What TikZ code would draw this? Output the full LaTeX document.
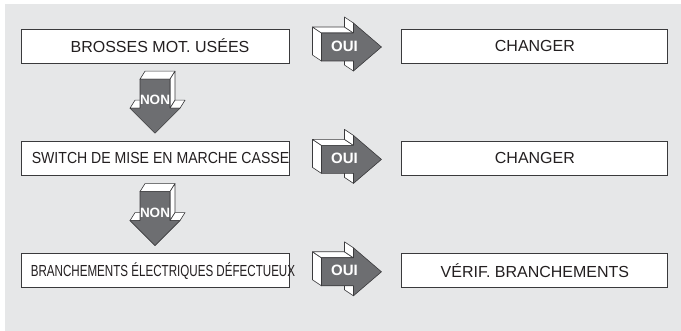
\documentclass[tikz,border=0pt]{standalone}
\usepackage{fontspec}
\setmainfont{Liberation Sans}
\usetikzlibrary{positioning,calc}
\definecolor{panel}{HTML}{E6E7E8}
\definecolor{arrowgray}{HTML}{6D6E71}
\definecolor{edge}{HTML}{3A3A3C}
\definecolor{ink}{HTML}{231F20}
\tikzset{
	qbox/.style={draw=edge, fill=white, line width=.9pt, minimum width=268pt, minimum height=34pt, inner sep=0pt},
	abox/.style={qbox, minimum width=266pt, text=ink, font=\fontsize{16}{16}\selectfont},
	qtext/.style={text=ink, inner sep=0pt, font=\fontsize{16}{16}\selectfont},
	side/.style={draw=edge, fill=white, line width=.6pt, line join=round},
	face/.style={draw=edge, fill=arrowgray, line width=.6pt, line join=round},
	tag/.style={text=white, inner sep=0pt, font=\bfseries\fontsize{15}{15}\selectfont},
}
\begin{document}
\begin{tikzpicture}[x=1pt, y=-1pt]
	\useasboundingbox (0,0) rectangle (681,331);
	\fill[panel] (5,4) rectangle (681,331);
	% questions
	\node[qbox] (q1) at (155,46) {};
	\node[qbox, below=77.5pt of q1] (q2) {};
	\node[qbox, below=77.5pt of q2] (q3) {};
	\node[qtext] (q1t) at ([xshift=5pt]q1.center) {BROSSES MOT. USÉES};
	\node[qtext] (q2t) at ([xshift=5.5pt]q2.center) {\scalebox{.88}[1]{SWITCH DE MISE EN MARCHE CASSE}};
	\node[qtext] (q3t) at ([xshift=8pt]q3.center) {\scalebox{.725}[1]{BRANCHEMENTS ÉLECTRIQUES DÉFECTUEUX}};
	% actions
	\node[abox, right=112pt of q1] (a1) {CHANGER};
	\node[abox, right=112pt of q2] (a2) {CHANGER};
	\node[abox, right=112pt of q3] (a3) {VÉRIF. BRANCHEMENTS};

	% OUI arrows
	\foreach \r in {1,2,3}{
		\begin{scope}[shift={($(q\r.east)!.5!(a\r.west)+(0,1)$)}]
			\filldraw[side] (-24,-14) -- (-33,-20) -- (-33,8) -- (-24,14) -- cycle;
			\filldraw[side] (-24,-14) -- (-33,-20) -- (-1,-20) -- (8,-14) -- cycle;
			\filldraw[side] (8,-14) -- (-1,-20) -- (-1,-30) -- (8,-24) -- cycle;
			\filldraw[side] (8,14) -- (-1,8) -- (-1,18) -- (8,24) -- cycle;
			\filldraw[face] (-24,-14) -- (8,-14) -- (8,-24) -- (36,0) -- (8,24) -- (8,14) -- (-24,14) -- cycle;
			\node[tag] (oui\r) at (-1,-1) {OUI};
		\end{scope}
	}
	% NON arrows
	\foreach \r/\s in {1/2,2/3}{
		\begin{scope}[shift={($(q\r.south)!.5!(q\s.north)$)}]
			\filldraw[side] (-15,-23) -- (-10,-31) -- (20,-31) -- (15,-23) -- cycle;
			\filldraw[side] (15,-23) -- (20,-31) -- (20,-2) -- (15,6) -- cycle;
			\filldraw[side] (-25,6) -- (-20,-2) -- (-10,-2) -- (-15,6) -- cycle;
			\filldraw[side] (15,6) -- (20,-2) -- (30,-2) -- (25,6) -- cycle;
			\filldraw[face] (-15,-23) -- (15,-23) -- (15,6) -- (25,6) -- (0,31) -- (-25,6) -- (-15,6) -- cycle;
			\node[tag, font=\bfseries\fontsize{13.5}{13.5}\selectfont] (non\r) at (0,-2) {NON};
		\end{scope}
	}
\end{tikzpicture}
\end{document}
